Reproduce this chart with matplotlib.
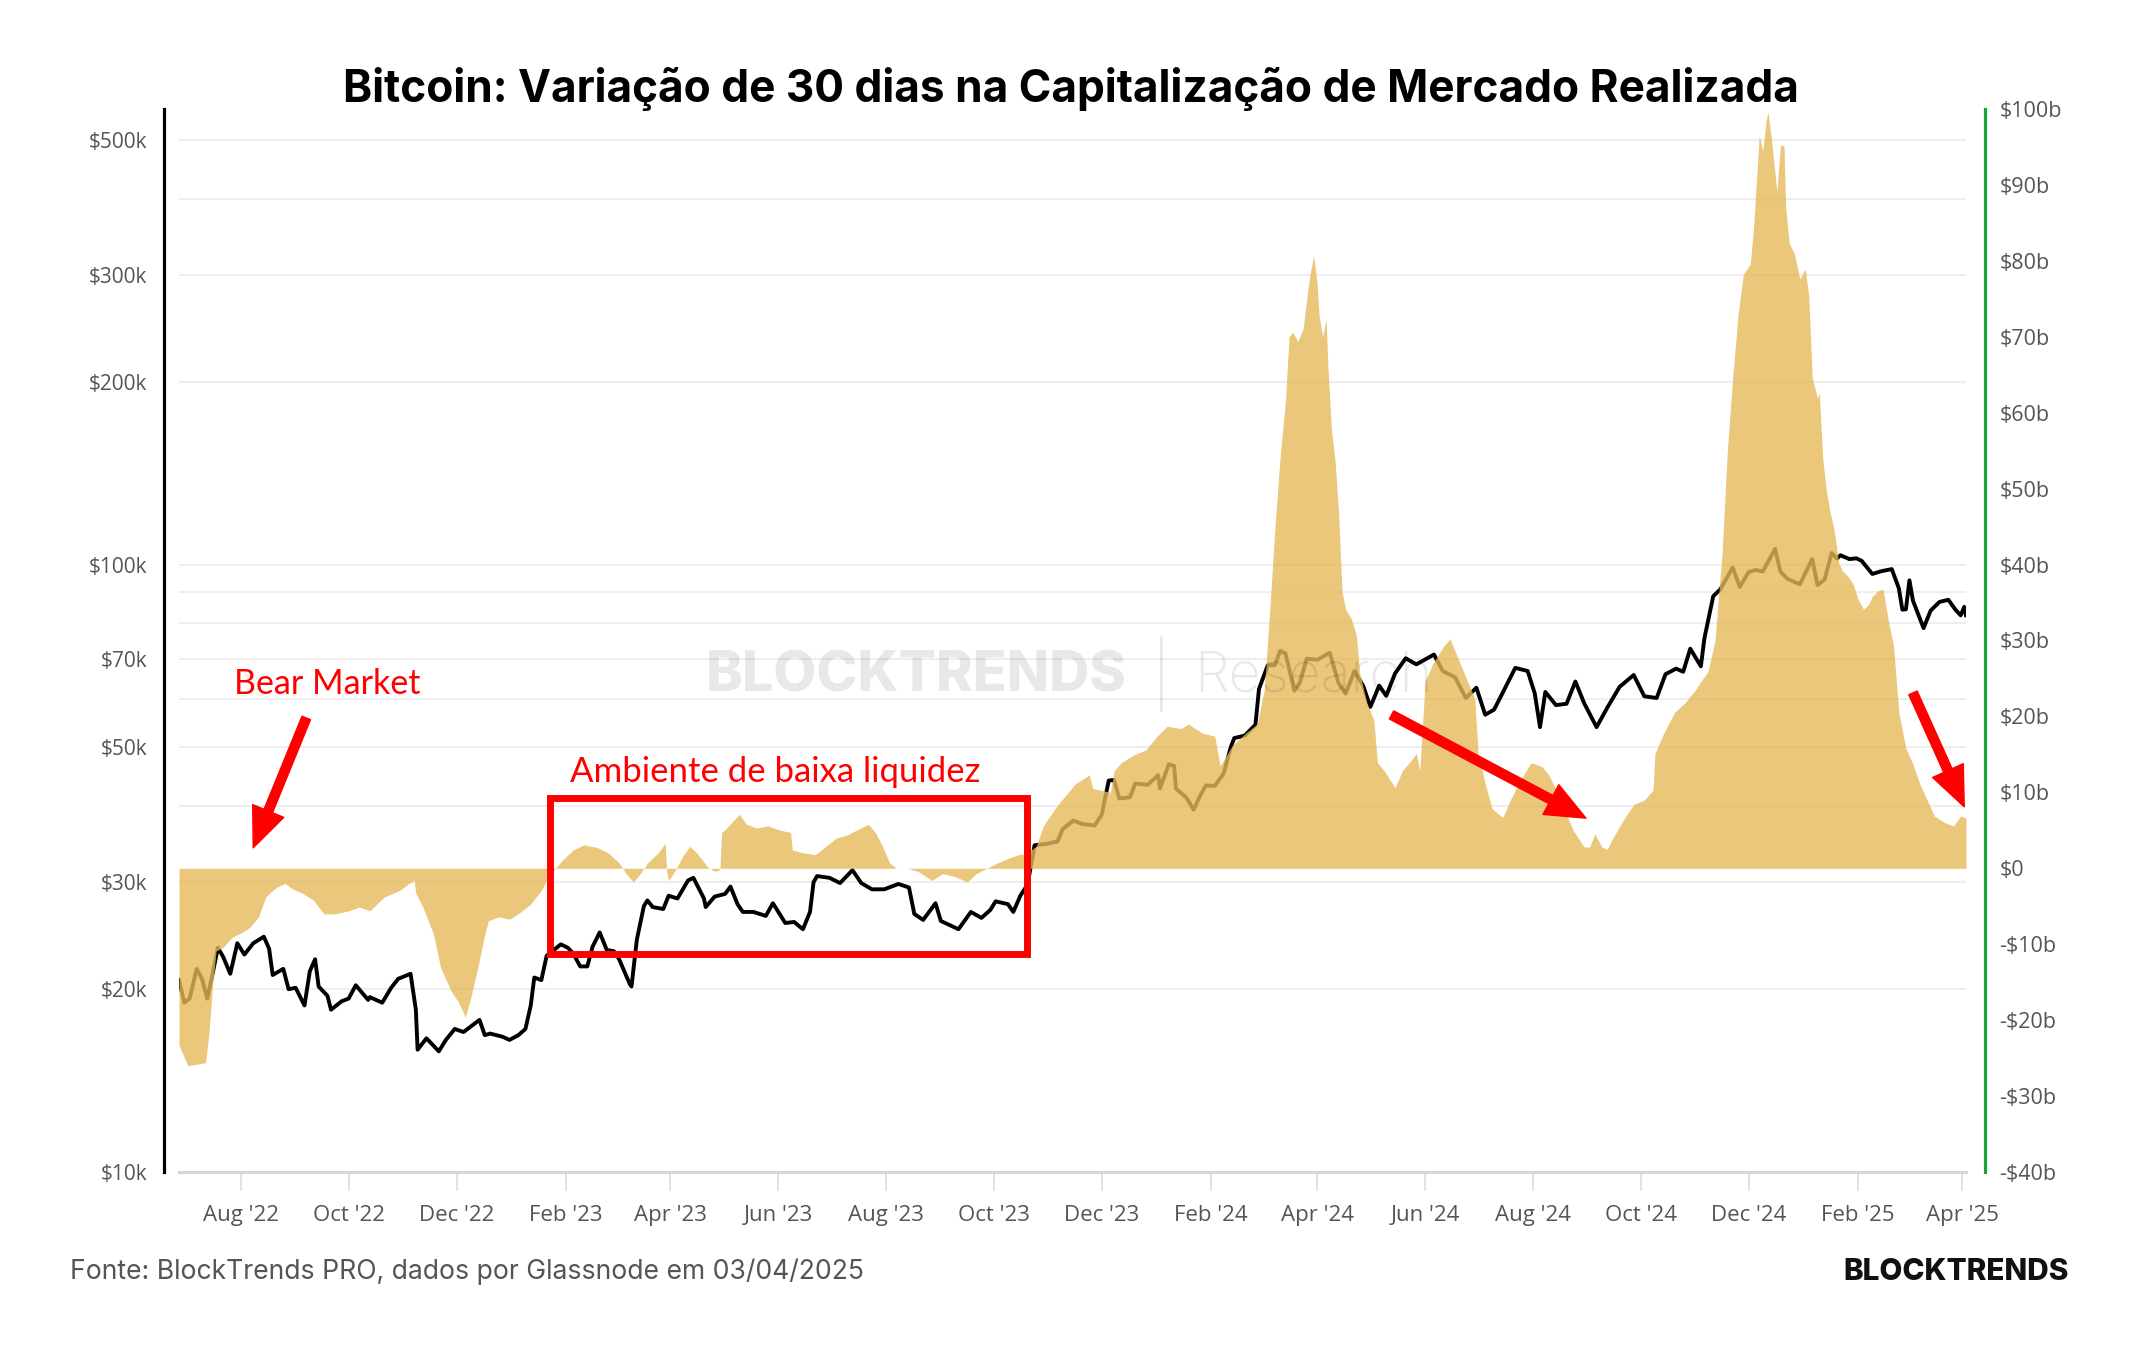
import matplotlib
matplotlib.use("Agg")
import matplotlib.pyplot as plt
import matplotlib.dates as mdates
from matplotlib.patches import Rectangle
import numpy as np
import pandas as pd

W, H = 2144, 1350

# BTC price (k USD), left log axis
price_dates = [
    "2022-06-27", "2022-06-30", "2022-07-03", "2022-07-07", "2022-07-10", "2022-07-13", "2022-07-16",
    "2022-07-19", "2022-07-22", "2022-07-26", "2022-07-30", "2022-08-03", "2022-08-08", "2022-08-14",
    "2022-08-17", "2022-08-19", "2022-08-25", "2022-08-28", "2022-09-01", "2022-09-06", "2022-09-09",
    "2022-09-12", "2022-09-14", "2022-09-19", "2022-09-21", "2022-09-27", "2022-10-01", "2022-10-05",
    "2022-10-12", "2022-10-13", "2022-10-20", "2022-10-25", "2022-10-29", "2022-11-05", "2022-11-08",
    "2022-11-09", "2022-11-14", "2022-11-21", "2022-11-25", "2022-11-30", "2022-12-05", "2022-12-14",
    "2022-12-17", "2022-12-20", "2022-12-27", "2022-12-31",
    "2023-01-05", "2023-01-09", "2023-01-12", "2023-01-14", "2023-01-18", "2023-01-21", "2023-01-29",
    "2023-02-02", "2023-02-05", "2023-02-09", "2023-02-13", "2023-02-16", "2023-02-20", "2023-02-24",
    "2023-02-28", "2023-03-03", "2023-03-09", "2023-03-10", "2023-03-13", "2023-03-17", "2023-03-19",
    "2023-03-22", "2023-03-28", "2023-03-31", "2023-04-05", "2023-04-11", "2023-04-14", "2023-04-20",
    "2023-04-21", "2023-04-26", "2023-05-02", "2023-05-05", "2023-05-09", "2023-05-12", "2023-05-18",
    "2023-05-25", "2023-05-29", "2023-06-05", "2023-06-10", "2023-06-15", "2023-06-19", "2023-06-21",
    "2023-06-23", "2023-06-30", "2023-07-06", "2023-07-13", "2023-07-18", "2023-07-24", "2023-07-31",
    "2023-08-08", "2023-08-14", "2023-08-17", "2023-08-22", "2023-08-29", "2023-09-01", "2023-09-11",
    "2023-09-18", "2023-09-24", "2023-09-29", "2023-10-02", "2023-10-09", "2023-10-12", "2023-10-16",
    "2023-10-20", "2023-10-23", "2023-10-24", "2023-10-31", "2023-11-06", "2023-11-09", "2023-11-15",
    "2023-11-20", "2023-11-27", "2023-12-01", "2023-12-05", "2023-12-08", "2023-12-11", "2023-12-17",
    "2023-12-20", "2023-12-27",
    "2024-01-02", "2024-01-03", "2024-01-08", "2024-01-11", "2024-01-12", "2024-01-18", "2024-01-22",
    "2024-01-26", "2024-01-29", "2024-02-03", "2024-02-08", "2024-02-12", "2024-02-14", "2024-02-20",
    "2024-02-26", "2024-02-28", "2024-03-04", "2024-03-08", "2024-03-11", "2024-03-14", "2024-03-19",
    "2024-03-22", "2024-03-26", "2024-04-01", "2024-04-08", "2024-04-13", "2024-04-17", "2024-04-22",
    "2024-04-27", "2024-05-01", "2024-05-06", "2024-05-10", "2024-05-15", "2024-05-21", "2024-05-27",
    "2024-06-06", "2024-06-11", "2024-06-18", "2024-06-24", "2024-06-30", "2024-07-05", "2024-07-10",
    "2024-07-14", "2024-07-22", "2024-07-29", "2024-08-02", "2024-08-05", "2024-08-08", "2024-08-14",
    "2024-08-20", "2024-08-25", "2024-08-30", "2024-09-06", "2024-09-12", "2024-09-19", "2024-09-27",
    "2024-10-03", "2024-10-10", "2024-10-15", "2024-10-21", "2024-10-25", "2024-10-29", "2024-11-04",
    "2024-11-06", "2024-11-11", "2024-11-15", "2024-11-22", "2024-11-26", "2024-12-01", "2024-12-05",
    "2024-12-09", "2024-12-16", "2024-12-19", "2024-12-23", "2024-12-30",
    "2025-01-06", "2025-01-09", "2025-01-13", "2025-01-17", "2025-01-20", "2025-01-22", "2025-01-27",
    "2025-01-31", "2025-02-03", "2025-02-09", "2025-02-14", "2025-02-20", "2025-02-24", "2025-02-26",
    "2025-02-28", "2025-03-02", "2025-03-04", "2025-03-10", "2025-03-14", "2025-03-19", "2025-03-24",
    "2025-03-28", "2025-03-31", "2025-04-02", "2025-04-03",
]
price_k = [
    20.7, 19.0, 19.3, 21.6, 20.8, 19.3, 21.2,
    23.4, 22.6, 21.2, 23.8, 22.8, 23.8, 24.4,
    23.3, 21.1, 21.6, 20.0, 20.1, 18.8, 21.4,
    22.4, 20.2, 19.5, 18.5, 19.1, 19.3, 20.3,
    19.2, 19.4, 19.0, 20.1, 20.8, 21.2, 18.5,
    15.9, 16.6, 15.8, 16.5, 17.2, 17.0, 17.8,
    16.8, 16.9, 16.7, 16.5,
    16.8, 17.2, 18.8, 20.9, 20.7, 22.7, 23.7,
    23.4, 22.9, 21.8, 21.8, 23.5, 24.8, 23.2,
    23.1, 22.4, 20.4, 20.2, 24.1, 27.4, 28.0,
    27.3, 27.1, 28.5, 28.2, 30.2, 30.5, 28.2,
    27.3, 28.4, 28.7, 29.5, 27.6, 26.8, 26.8,
    26.4, 27.7, 25.7, 25.8, 25.1, 26.8, 30.0,
    30.7, 30.5, 29.9, 31.4, 29.9, 29.2, 29.2,
    29.8, 29.4, 26.6, 26.0, 27.7, 25.9, 25.1,
    26.8, 26.2, 27.0, 27.9, 27.6, 26.8, 28.5,
    29.7, 33.1, 34.5, 34.7, 35.0, 36.7, 37.9,
    37.4, 37.2, 38.7, 44.1, 44.2, 41.2, 41.4,
    43.6, 43.4,
    45.0, 42.8, 46.9, 46.6, 42.8, 41.3, 39.5,
    41.8, 43.3, 43.2, 45.3, 50.0, 51.8, 52.3,
    54.5, 62.4, 68.3, 68.3, 72.1, 71.4, 62.0,
    63.8, 70.0, 69.7, 71.6, 63.8, 61.3, 66.8,
    63.1, 58.3, 63.2, 60.8, 66.2, 70.1, 68.5,
    71.1, 66.8, 65.2, 60.3, 62.7, 56.6, 57.7,
    60.8, 67.6, 66.8, 61.4, 54.0, 61.7, 58.7,
    59.0, 64.2, 59.1, 54.0, 58.1, 62.9, 65.8,
    60.7, 60.3, 66.0, 67.4, 66.6, 72.7, 68.0,
    75.6, 88.7, 91.0, 98.9, 91.9, 97.2, 98.0,
    97.4, 106.1, 97.4, 94.7, 92.8,
    102.1, 92.5, 94.5, 104.5, 102.3, 103.6, 102.1,
    102.4, 101.4, 96.5, 97.5, 98.3, 91.4, 84.3,
    84.4, 94.2, 87.2, 78.6, 84.0, 86.8, 87.5,
    84.3, 82.5, 85.2, 82.5,
]

# 30-day change of realized cap (billion USD), right axis
rc_dates = [
    "2022-06-27", "2022-07-02", "2022-07-12", "2022-07-14", "2022-07-16", "2022-07-18", "2022-07-22",
    "2022-07-27", "2022-08-02", "2022-08-06", "2022-08-11", "2022-08-15", "2022-08-18", "2022-08-22",
    "2022-08-26", "2022-08-30", "2022-09-05", "2022-09-11", "2022-09-17", "2022-09-23", "2022-10-01",
    "2022-10-07", "2022-10-13", "2022-10-17", "2022-10-21", "2022-10-30", "2022-11-04", "2022-11-07",
    "2022-11-08", "2022-11-12", "2022-11-18", "2022-11-22", "2022-11-28", "2022-12-02", "2022-12-06",
    "2022-12-09", "2022-12-13", "2022-12-17", "2022-12-19", "2022-12-25", "2022-12-31",
    "2023-01-06", "2023-01-12", "2023-01-18", "2023-01-22", "2023-01-26", "2023-01-30", "2023-02-05",
    "2023-02-11", "2023-02-19", "2023-02-25", "2023-03-03", "2023-03-07", "2023-03-11", "2023-03-15",
    "2023-03-19", "2023-03-25", "2023-03-29", "2023-03-30", "2023-03-31", "2023-04-04", "2023-04-08",
    "2023-04-12", "2023-04-16", "2023-04-22", "2023-04-26", "2023-04-29", "2023-04-30", "2023-05-02",
    "2023-05-10", "2023-05-14", "2023-05-20", "2023-05-26", "2023-06-01", "2023-06-08", "2023-06-09",
    "2023-06-16", "2023-06-22", "2023-06-28", "2023-07-04", "2023-07-10", "2023-07-16", "2023-07-22",
    "2023-07-26", "2023-07-30", "2023-08-03", "2023-08-07", "2023-08-13", "2023-08-19", "2023-08-27",
    "2023-09-02", "2023-09-09", "2023-09-16", "2023-09-21", "2023-09-27", "2023-10-03", "2023-10-09",
    "2023-10-15", "2023-10-19", "2023-10-25", "2023-10-29", "2023-11-06", "2023-11-16", "2023-11-24",
    "2023-11-26", "2023-12-06", "2023-12-08", "2023-12-12", "2023-12-19", "2023-12-26",
    "2024-01-01", "2024-01-07", "2024-01-15", "2024-01-19", "2024-01-27", "2024-02-03", "2024-02-06",
    "2024-02-13", "2024-02-21", "2024-02-27", "2024-03-02", "2024-03-05", "2024-03-08", "2024-03-11",
    "2024-03-14", "2024-03-16", "2024-03-18", "2024-03-21", "2024-03-24", "2024-03-26", "2024-03-28",
    "2024-03-30", "2024-04-01", "2024-04-02", "2024-04-04", "2024-04-06", "2024-04-07", "2024-04-09",
    "2024-04-11", "2024-04-13", "2024-04-15", "2024-04-17", "2024-04-20", "2024-04-23", "2024-04-25",
    "2024-04-29", "2024-05-03", "2024-05-05", "2024-05-09", "2024-05-15", "2024-05-19", "2024-05-23",
    "2024-05-27", "2024-05-29", "2024-06-01", "2024-06-05", "2024-06-11", "2024-06-15", "2024-06-19",
    "2024-06-25", "2024-06-29", "2024-07-01", "2024-07-05", "2024-07-09", "2024-07-15", "2024-07-19",
    "2024-07-25", "2024-07-31", "2024-08-06", "2024-08-10", "2024-08-14", "2024-08-24", "2024-08-30",
    "2024-09-02", "2024-09-05", "2024-09-09", "2024-09-12", "2024-09-15", "2024-09-21", "2024-09-27",
    "2024-10-03", "2024-10-08", "2024-10-09", "2024-10-14", "2024-10-20", "2024-10-26", "2024-11-01",
    "2024-11-04", "2024-11-08", "2024-11-12", "2024-11-16", "2024-11-19", "2024-11-22", "2024-11-25",
    "2024-11-28", "2024-12-02", "2024-12-04", "2024-12-07", "2024-12-09", "2024-12-11", "2024-12-12",
    "2024-12-14", "2024-12-17", "2024-12-19", "2024-12-21", "2024-12-22", "2024-12-24", "2024-12-27",
    "2024-12-30",
    "2025-01-02", "2025-01-04", "2025-01-06", "2025-01-09", "2025-01-10", "2025-01-12", "2025-01-14",
    "2025-01-16", "2025-01-18", "2025-01-19", "2025-01-21", "2025-01-23", "2025-01-26", "2025-01-29",
    "2025-02-01", "2025-02-04", "2025-02-07", "2025-02-09", "2025-02-12", "2025-02-15", "2025-02-18",
    "2025-02-21", "2025-02-24", "2025-02-28", "2025-03-04", "2025-03-08", "2025-03-12", "2025-03-16",
    "2025-03-20", "2025-03-23", "2025-03-27", "2025-03-31", "2025-04-03",
]
rc_change_b = [
    -23.3, -26.0, -25.6, -21.6, -15.3, -10.9, -10.4,
    -9.1, -8.4, -7.8, -6.4, -3.8, -3.1, -2.4,
    -2.0, -2.7, -3.3, -4.2, -6.0, -6.0, -5.6,
    -5.1, -5.6, -4.7, -3.8, -2.9, -2.0, -1.6,
    -3.3, -5.1, -8.7, -13.1, -16.2, -17.6, -19.6,
    -17.1, -13.1, -8.7, -6.9, -6.4, -6.7,
    -5.8, -4.7, -2.9, -1.1, 0.0, 1.1, 2.4,
    3.1, 2.7, 2.0, 0.7, -0.7, -1.8, -0.7,
    0.7, 2.0, 3.3, -0.7, -1.6, -0.2, 1.6,
    2.9, 2.0, 0.2, -0.4, -0.2, 4.7, 5.1,
    7.1, 5.8, 5.3, 5.6, 5.1, 4.7, 2.4,
    2.0, 1.8, 2.9, 4.0, 4.4, 5.1, 5.8,
    4.7, 2.9, 0.7, 0.0, 0.0, -0.4, -1.6,
    -0.7, -1.1, -1.8, -0.7, 0.0, 0.7, 1.3,
    1.8, 1.9, 2.9, 5.6, 8.3, 11.1, 12.3,
    10.5, 10.0, 12.8, 13.9, 14.9, 15.6,
    17.3, 18.7, 18.4, 19.0, 17.8, 17.4, 13.5,
    16.2, 17.9, 19.0, 23.5, 33.6, 44.8, 54.3,
    61.6, 70.0, 70.6, 69.4, 71.1, 75.0, 78.4,
    80.7, 76.7, 72.8, 70.0, 72.3, 66.1, 57.7,
    53.8, 47.0, 36.4, 34.1, 33.0, 30.8, 25.7,
    21.8, 19.5, 13.9, 12.8, 10.6, 12.8, 13.9,
    15.1, 12.8, 24.6, 26.8, 29.1, 30.2, 28.0,
    24.6, 22.4, 15.1, 11.1, 7.8, 6.7, 8.9,
    11.7, 13.9, 13.4, 12.3, 10.3, 4.9, 2.8,
    2.8, 4.5, 2.8, 2.5, 3.9, 6.3, 8.4,
    9.0, 10.3, 15.1, 17.8, 20.5, 21.8, 23.5,
    24.6, 25.9, 30.0, 41.5, 55.1, 64.6, 72.8,
    78.2, 79.6, 85.0, 96.5, 94.5, 98.6, 99.6,
    95.9, 89.1, 95.2, 95.2, 87.0, 82.3, 80.9,
    77.6,
    78.9, 75.5, 64.6, 61.9, 62.6, 53.8, 49.7,
    47.0, 45.0, 43.6, 40.2, 39.2, 38.5, 37.5,
    35.4, 34.1, 34.8, 35.8, 36.5, 36.8, 32.7,
    29.3, 20.5, 15.8, 13.7, 11.0, 9.0, 6.9,
    6.3, 5.9, 5.6, 6.9, 6.6,
]

left_ticks = [10e3, 20e3, 30e3, 50e3, 70e3, 100e3, 200e3, 300e3, 500e3]
left_labels = ["$10k", "$20k", "$30k", "$50k", "$70k", "$100k", "$200k", "$300k", "$500k"]
left_grid = [20e3, 30e3, 40e3, 50e3, 60e3, 70e3, 80e3, 90e3, 100e3, 200e3, 300e3, 400e3, 500e3]
right_ticks = list(range(-40, 101, 10))
right_labels = [("-$%db" % -t) if t < 0 else ("$0" if t == 0 else "$%db" % t) for t in right_ticks]

price = pd.Series(np.array(price_k) * 1000, index=pd.to_datetime(price_dates))
rc = pd.Series(rc_change_b, index=pd.to_datetime(rc_dates))

GOLD = "#e5b95a"
RED = "#ff0000"
GRAY_TXT = "#555555"

fig = plt.figure(figsize=(W / 100, H / 100), dpi=100)
fig.patch.set_facecolor("white")

def px(x, y):
    return x / W, 1 - y / H

x0, x1, y_top, y_bot = 179, 1966, 109, 1172
ax = fig.add_axes([x0 / W, 1 - y_bot / H, (x1 - x0) / W, (y_bot - y_top) / H])
ax2 = ax.twinx()

# price line (drawn under the fill)
ax.plot(price.index, price.values, color="black", lw=2.8, zorder=3)
ax.set_yscale("log")
ax.set_ylim(10e3, 10 ** 5.75)
ax.set_yticks(left_ticks)
ax.set_yticklabels(left_labels)
ax.yaxis.set_minor_locator(matplotlib.ticker.NullLocator())
for g in left_grid:
    ax.axhline(g, color="#eeeeee", lw=1.5, zorder=0)
ax.set_xlim(rc.index[0], rc.index[-1])

# realized cap change area
ax2.fill_between(rc.index, 0, rc.values, color=GOLD, alpha=0.8, lw=0, zorder=2)
ax2.set_ylim(-40, 100)
ax2.set_yticks(right_ticks)
ax2.set_yticklabels(right_labels)

# spines
for s in ["top", "right"]:
    ax.spines[s].set_visible(False)
for s in ["top", "left", "bottom"]:
    ax2.spines[s].set_visible(False)
ax.spines["left"].set_position(("outward", 11))
ax.spines["left"].set_color("black")
ax.spines["left"].set_linewidth(2.3)
ax.spines["bottom"].set_color("#d6d6d6")
ax.spines["bottom"].set_linewidth(2.2)
ax2.spines["right"].set_position(("outward", 14))
ax2.spines["right"].set_color("#1aa33c")
ax2.spines["right"].set_linewidth(2.3)

ax.tick_params(axis="y", length=0, pad=12, labelsize=15, labelcolor=GRAY_TXT)
ax2.tick_params(axis="y", length=0, pad=10, labelsize=15.5, labelcolor=GRAY_TXT)
for lab in ax.get_yticklabels() + ax2.get_yticklabels():
    lab.set_fontfamily("Open Sans")

ax.xaxis.set_major_locator(mdates.MonthLocator(bymonth=[2, 4, 6, 8, 10, 12]))
ax.xaxis.set_major_formatter(mdates.DateFormatter("%b '%y"))
ax.tick_params(axis="x", length=14, width=1.2, color="#dddddd", pad=10,
               labelsize=16, labelcolor=GRAY_TXT)
for lab in ax.get_xticklabels():
    lab.set_fontfamily("Open Sans")

# annotations
d = mdates.date2num
arrow_kw = dict(arrowstyle="simple,head_length=1.3,head_width=1.1,tail_width=0.3",
                color=RED, mutation_scale=22, shrinkA=0, shrinkB=0)
ax2.text(d(pd.Timestamp("2022-07-28")), 24.3, "Bear Market", color=RED,
         fontsize=24.5, family="Lato", va="center", ha="left", zorder=5)
ax2.annotate("", xy=(d(pd.Timestamp("2022-08-08")), 2.7),
             xytext=(d(pd.Timestamp("2022-09-07")), 19.8), arrowprops=arrow_kw, zorder=5)
ax2.text(d(pd.Timestamp("2023-02-03")), 12.7, "Ambiente de baixa liquidez", color=RED,
         fontsize=25, family="Lato", va="center", ha="left", zorder=5)
box_l, box_r = d(pd.Timestamp("2023-01-23")), d(pd.Timestamp("2023-10-20"))
ax2.add_patch(Rectangle((box_l, -11.3), box_r - box_l, 20.6, fill=False,
                        edgecolor=RED, lw=5, zorder=5, clip_on=False))
ax2.annotate("", xy=(d(pd.Timestamp("2024-08-31")), 6.6),
             xytext=(d(pd.Timestamp("2024-05-13")), 20.2), arrowprops=arrow_kw, zorder=5)
ax2.annotate("", xy=(d(pd.Timestamp("2025-04-02")), 8.1),
             xytext=(d(pd.Timestamp("2025-03-04")), 23.1), arrowprops=arrow_kw,
             zorder=5, annotation_clip=False)

# watermark
fig.text(*px(916, 676), "BLOCKTRENDS", fontsize=40, fontweight="heavy", family="Inter",
         color="black", alpha=0.09, ha="center", va="center")
fig.text(*px(1161, 674), "|", fontsize=46, fontweight="light", family="Inter",
         color="black", alpha=0.09, ha="center", va="center")
fig.text(*px(1194, 676), "Research", fontsize=40, fontweight="light", family="Inter",
         color="black", alpha=0.09, ha="left", va="center")

# title and footer
fig.text(*px(1071, 89), "Bitcoin: Variação de 30 dias na Capitalização de Mercado Realizada",
         fontsize=31.8, fontweight="bold", family="Inter", color="black", ha="center", va="center")
fig.text(*px(70, 1272), "Fonte: BlockTrends PRO, dados por Glassnode em 03/04/2025",
         fontsize=19.1, family="Inter", color=GRAY_TXT, ha="left", va="center")
fig.text(*px(2069, 1272), "BLOCKTRENDS", fontsize=21.4, fontweight="heavy", family="Inter",
         color="#111111", ha="right", va="center")

fig.savefig("out.png", dpi=100)
